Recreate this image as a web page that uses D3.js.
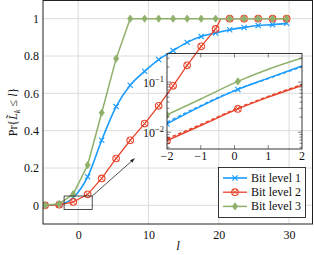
<!DOCTYPE html>
<html>
<head>
<meta charset="utf-8">
<script src="https://cdn.jsdelivr.net/npm/d3@7"></script>
<style>
  html, body { margin: 0; padding: 0; background: #fff; }
  svg { display: block; font-family: "Liberation Serif", "DejaVu Serif", serif; }
</style>
</head>
<body>
<div id="chart"></div>
<script>
// --- datos ---
const markL  = [-4.7, -2.7, -0.7, 1.35, 3.35, 5.4, 7.4, 9.45, 11.45, 13.5, 15.5, 17.5, 19.55, 21.55, 23.6, 25.6, 27.65, 29.65];
const bit1   = [0, 0.005, 0.042, 0.153, 0.349, 0.529, 0.643, 0.718, 0.781, 0.829, 0.873, 0.904, 0.923, 0.941, 0.953, 0.963, 0.968, 0.975];
const bit2   = [0, 0.003, 0.018, 0.059, 0.144, 0.251, 0.348, 0.438, 0.533, 0.640, 0.750, 0.852, 0.945, 1, 1, 1, 1, 1];
const bit3   = [0, 0.008, 0.060, 0.216, 0.496, 0.786, 1, 1, 1, 1, 1, 1, 1, 1, 1, 1, 1, 1];
const bit2Kink = [20.3, 1];           // donde la curva roja llega a 1

// zoom (escala log)
const insetL      = [-2, -1, 0.1, 1, 2];
const insetBit1   = [0.0147, 0.0327, 0.0714, 0.120, 0.209];
const insetBit2   = [0.0068, 0.0136, 0.0292, 0.050, 0.086];
const insetBit3   = [0.0222, 0.046, 0.103, 0.180, 0.302];
const insetApprox1 = [0.0158, 0.0340, 0.0722, 0.117, 0.203];
const insetApprox2 = [0.0074, 0.0143, 0.0303, 0.052, 0.089];
const insetMarkIdx = [0, 2];

const xTicks = [0, 10, 20, 30];
const yTicks = [0, 0.2, 0.4, 0.6, 0.8, 1];
const insetXTicks = [-2, -1, 0, 1, 2];
const insetYTicks = [0.01, 0.1];
const names = ["Bit level 1", "Bit level 2", "Bit level 3"];

const BLUE = "#1a9bff", RED = "#e8442c", GREEN = "#8fb06a";

const W = 314, H = 255;
const svg = d3.select("#chart").append("svg").attr("width", W).attr("height", H);

const x = d3.scaleLinear().domain([-5, 33.4]).range([43, 313]);
const y = d3.scaleLinear().domain([-0.1, 1.1]).range([224, 0]);

svg.append("clipPath").attr("id", "clipMain")
  .append("rect").attr("x", 43).attr("y", 0).attr("width", 270).attr("height", 224);

// rejilla
const grid = svg.append("g").attr("stroke", "#dcdcdc").attr("stroke-width", 1);
grid.selectAll("line.vx").data(xTicks).join("line")
  .attr("x1", d => x(d)).attr("x2", d => x(d)).attr("y1", 0).attr("y2", 224);
grid.selectAll("line.hy").data(yTicks).join("line")
  .attr("y1", d => y(d)).attr("y2", d => y(d)).attr("x1", 43).attr("x2", 313);

// ejes con d3.axis (solo etiquetas)
const xAxis = svg.append("g").attr("transform", "translate(0,224)")
  .call(d3.axisBottom(x).tickValues(xTicks).tickSize(0).tickPadding(4).tickFormat(d3.format("d")));
const yAxis = svg.append("g").attr("transform", "translate(43,0)")
  .call(d3.axisLeft(y).tickValues(yTicks).tickSize(0).tickPadding(4).tickFormat(d => d === 0 || d === 1 ? d : d3.format(".1f")(d)));
[xAxis, yAxis].forEach(a => {
  a.select(".domain").remove();
  a.selectAll("text").attr("font-size", 12).attr("fill", "#111").style("font-family", "Liberation Serif");
});
xAxis.selectAll("text").attr("dy", "0.9em");

// marcas
function markX(g, cx, cy, c) {
  g.append("path").attr("d", `M${cx-2.6},${cy-2.6}L${cx+2.6},${cy+2.6}M${cx-2.6},${cy+2.6}L${cx+2.6},${cy-2.6}`)
    .attr("stroke", c).attr("stroke-width", 1.1).attr("fill", "none");
}
function markOtimes(g, cx, cy, c) {
  g.append("circle").attr("cx", cx).attr("cy", cy).attr("r", 3.3).attr("fill", "none").attr("stroke", c).attr("stroke-width", 1.1);
  g.append("path").attr("d", `M${cx-2.3},${cy-2.3}L${cx+2.3},${cy+2.3}M${cx-2.3},${cy+2.3}L${cx+2.3},${cy-2.3}`)
    .attr("stroke", c).attr("stroke-width", 0.9);
}
function markDiamond(g, cx, cy, c) {
  g.append("path").attr("d", `M${cx},${cy-3.6}L${cx+2.6},${cy}L${cx},${cy+3.6}L${cx-2.6},${cy}Z`)
    .attr("fill", c).attr("stroke", c).attr("stroke-width", 0.8);
}

const series = [
  { vals: bit1, color: BLUE, mark: markX, curve: d3.curveMonotoneX, width: 1.6 },
  { vals: bit2, color: RED, mark: markOtimes, curve: d3.curveLinear, width: 1.3, extra: bit2Kink },
  { vals: bit3, color: GREEN, mark: markDiamond, curve: d3.curveLinear, width: 1.5 }
];

const main = svg.append("g").attr("clip-path", "url(#clipMain)");
series.forEach(s => {
  let pts = markL.map((l, i) => [l, s.vals[i]]);
  if (s.extra) pts = pts.concat([s.extra]).sort((a, b) => a[0] - b[0]);
  const line = d3.line().x(d => x(d[0])).y(d => y(d[1])).curve(s.curve);
  main.append("path").attr("d", line(pts)).attr("fill", "none")
    .attr("stroke", s.color).attr("stroke-width", s.width);
  const mg = main.append("g");
  markL.forEach((l, i) => s.mark(mg, x(l), y(s.vals[i]), s.color));
});

// recuadro del zoom y flecha
svg.append("rect")
  .attr("x", x(-2)).attr("y", y(0.05)).attr("width", x(2) - x(-2)).attr("height", y(-0.022) - y(0.05))
  .attr("fill", "none").attr("stroke", "#222").attr("stroke-width", 0.8);
svg.append("defs").append("marker").attr("id", "ah").attr("viewBox", "0 0 10 10")
  .attr("refX", 9).attr("refY", 5).attr("markerWidth", 6).attr("markerHeight", 6).attr("orient", "auto")
  .append("path").attr("d", "M0,1.5L10,5L0,8.5Z").attr("fill", "#222");
svg.append("line")
  .attr("x1", x(2)).attr("y1", y(0.05)).attr("x2", x(8)).attr("y2", y(0.25))
  .attr("stroke", "#222").attr("stroke-width", 0.8).attr("marker-end", "url(#ah)");

// --- inset ---
const ix = d3.scaleLinear().domain([-2, 2]).range([167, 302]);
const iy = d3.scaleLog().domain([0.00463, 0.371]).range([149, 53.5]);

svg.append("clipPath").attr("id", "clipInset")
  .append("rect").attr("x", 167).attr("y", 53.5).attr("width", 135).attr("height", 95.5);

const ins = svg.append("g");
const insC = ins.append("g").attr("clip-path", "url(#clipInset)");
const iline = d3.line().x(d => ix(d[0])).y(d => iy(d[1])).curve(d3.curveMonotoneX);

[
  { v: insetApprox1, c: BLUE, dash: true },
  { v: insetApprox2, c: RED, dash: true },
  { v: insetBit1, c: BLUE, m: markX },
  { v: insetBit2, c: RED, m: markOtimes },
  { v: insetBit3, c: GREEN, m: markDiamond }
].forEach(s => {
  insC.append("path").attr("d", iline(insetL.map((l, i) => [l, s.v[i]])))
    .attr("fill", "none").attr("stroke", s.c).attr("stroke-width", s.dash ? 1.4 : 1.5)
    .attr("stroke-dasharray", s.dash ? "3.5,2.5" : null);
  if (s.m) insetMarkIdx.forEach(i => s.m(insC, ix(insetL[i]), iy(s.v[i]), s.c));
});

// ticks del inset
const tk = ins.append("g").attr("stroke", "#333").attr("stroke-width", 0.6);
insetXTicks.slice(1, -1).forEach(t => {
  tk.append("line").attr("x1", ix(t)).attr("x2", ix(t)).attr("y1", 149).attr("y2", 145);
  tk.append("line").attr("x1", ix(t)).attr("x2", ix(t)).attr("y1", 53.5).attr("y2", 57.5);
});
const minor = iy.ticks().filter(v => insetYTicks.indexOf(v) < 0);
minor.forEach(v => {
  tk.append("line").attr("x1", 167).attr("x2", 169.5).attr("y1", iy(v)).attr("y2", iy(v));
  tk.append("line").attr("x1", 302).attr("x2", 299.5).attr("y1", iy(v)).attr("y2", iy(v));
});
insetYTicks.forEach(v => {
  tk.append("line").attr("x1", 167).attr("x2", 171).attr("y1", iy(v)).attr("y2", iy(v));
  tk.append("line").attr("x1", 302).attr("x2", 298).attr("y1", iy(v)).attr("y2", iy(v));
});
ins.append("rect").attr("x", 167).attr("y", 53.5).attr("width", 135).attr("height", 95.5)
  .attr("fill", "none").attr("stroke", "#222").attr("stroke-width", 0.9);

ins.selectAll("text.ixl").data(insetXTicks).join("text")
  .attr("x", d => ix(d)).attr("y", 160).attr("text-anchor", "middle")
  .attr("font-size", 12).attr("fill", "#111")
  .text(d => d < 0 ? "\u2212" + Math.abs(d) : d);
insetYTicks.forEach(v => {
  const t = ins.append("text").attr("x", 164).attr("y", iy(v) + 4.5)
    .attr("text-anchor", "end").attr("font-size", 12).attr("fill", "#111");
  t.append("tspan").text("10");
  t.append("tspan").attr("dy", -5).attr("font-size", 8.5).text("\u2212" + Math.round(-Math.log10(v)));
});

// marco principal
svg.append("rect").attr("x", 43).attr("y", 0.5).attr("width", 269.5).attr("height", 223.5)
  .attr("fill", "none").attr("stroke", "#222").attr("stroke-width", 1);

// etiquetas de ejes
svg.append("text").attr("x", 178).attr("y", 250).attr("text-anchor", "middle")
  .attr("font-size", 13).attr("font-style", "italic").attr("fill", "#111").text("l");
const yl = svg.append("text").attr("transform", "translate(17,112) rotate(-90)")
  .attr("text-anchor", "middle").attr("font-size", 12).attr("fill", "#111");
yl.append("tspan").text("Pr{");
yl.append("tspan").attr("font-style", "italic").text("L\u0303");
yl.append("tspan").attr("font-style", "italic").attr("font-size", 8.5).attr("dy", 3).text("k");
yl.append("tspan").attr("dy", -3).text(" \u2264 ");
yl.append("tspan").attr("font-style", "italic").text("l");
yl.append("tspan").text("}");

// leyenda
const lg = svg.append("g");
lg.append("rect").attr("x", 218.5).attr("y", 167.5).attr("width", 87).attr("height", 50)
  .attr("fill", "#fff").attr("stroke", "#222").attr("stroke-width", 0.9);
series.forEach((s, i) => {
  const yy = 178 + i * 14.2;
  lg.append("line").attr("x1", 223).attr("x2", 247).attr("y1", yy).attr("y2", yy)
    .attr("stroke", s.color).attr("stroke-width", s.width);
  s.mark(lg, 235, yy, s.color);
  lg.append("text").attr("x", 251).attr("y", yy + 4).attr("font-size", 12).attr("fill", "#111").text(names[i]);
});
</script>
</body>
</html>
